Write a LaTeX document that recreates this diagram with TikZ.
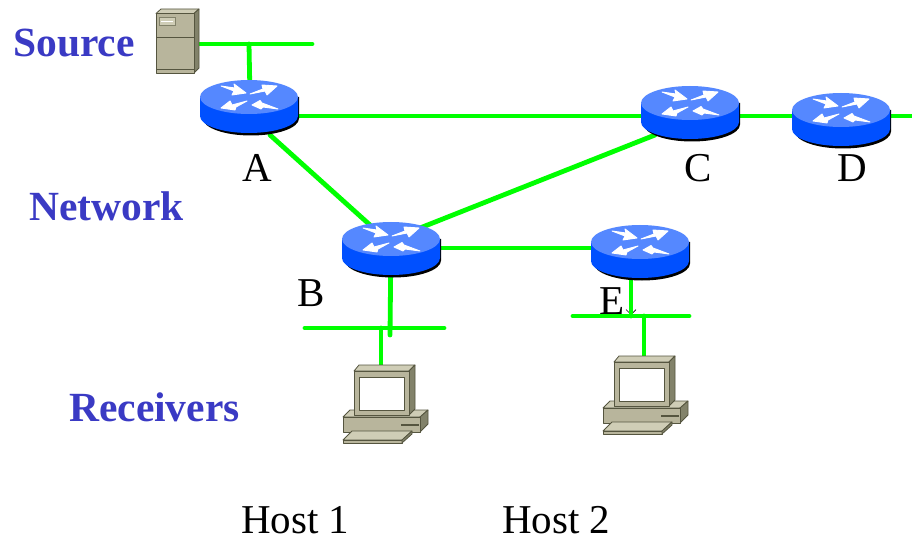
\documentclass[tikz,border=0pt]{standalone}
\usepackage{fontspec}
\setmainfont{Liberation Serif}
\usetikzlibrary{arrows.meta,calc}
\definecolor{linkgreen}{HTML}{00FF00}
\definecolor{titleblue}{HTML}{3A3AC4}
\definecolor{rtop}{HTML}{5588FF}
\definecolor{rbody}{HTML}{0050FF}
\definecolor{beige}{HTML}{B8B59C}
\definecolor{beigelt}{HTML}{CFCDB6}
\definecolor{beigedk}{HTML}{82826A}
\definecolor{edgedk}{HTML}{55553F}
\tikzset{
  link/.style={draw=linkgreen,line width=4.8pt,line cap=round},
  title/.style={font=\fontsize{41.5}{43}\selectfont\bfseries,text=titleblue,inner sep=0pt},
  label/.style={font=\fontsize{41}{43}\selectfont,text=black,inner sep=0pt},
  anchorbox/.style={inner sep=0pt,minimum width=98pt,minimum height=34pt},
  hw/.style={draw=edgedk,line width=0.8pt,line join=round},
  rarrow/.style={fill=white,draw=white,line width=0.9pt,line join=round},
  router/.pic={
    \fill[black] (-46,0) -- (-46,21.5) arc[start angle=180,end angle=0,x radius=48,y radius=17] -- (50,0) -- cycle;
    \fill[rbody] (-49,0) -- (-49,19) arc[start angle=180,end angle=0,x radius=49,y radius=17] -- (49,0) -- cycle;
    \fill[rtop] (0,0) ellipse[x radius=49,y radius=17];
    \path[rarrow] (-28,-11) -- (-14,-9) -- (-15,-13) -- (-3,-4) -- (-17,-2) -- (-15,-6) -- cycle;
    \path[rarrow] (1,-3) -- (14,-8) -- (13,-12) -- (28,-11) -- (18,-2) -- (16,-6) -- cycle;
    \path[rarrow] (-2,4) -- (-17,8) -- (-19,4) -- (-28,11) -- (-14,13) -- (-13,10) -- cycle;
    \path[rarrow] (3,8) -- (11,3.5) -- (13,6) -- (29,12) -- (14,10) -- (12,12) -- cycle;
  },
  computer/.pic={
    % base
    \fill[hw,fill=beigelt] (-34,46) -- (44,46) -- (36,53) -- (-41,53) -- cycle;
    \fill[hw,fill=beigedk] (36,53) -- (44,46) -- (44,60) -- (36,68) -- cycle;
    \fill[hw,fill=beige] (-41,53) rectangle (36,68);
    \draw[edgedk,line width=1.4pt] (17,61) -- (35,61);
    % monitor
    \fill[hw,fill=beigelt] (-30,7) -- (-25,1) -- (31,1) -- (25,7) -- cycle;
    \fill[hw,fill=beigedk] (25,7) -- (31,1) -- (31,45) -- (25,51) -- cycle;
    \fill[hw,fill=beige] (-30,7) rectangle (25,51);
    \fill[hw,fill=white] (-25,13) rectangle (20,46);
    % keyboard
    \fill[hw,fill=beigelt] (-32,67) -- (28,67) -- (18,76) -- (-41,76) -- cycle;
    \fill[hw,fill=beige] (-41,76) -- (18,76) -- (18,79) -- (-41,79) -- cycle;
    \fill[hw,fill=beigedk] (18,76) -- (28,67) -- (28,70) -- (18,79) -- cycle;
  },
  server/.pic={
    \fill[hw,fill=beigelt] (0,4.5) -- (5,0) -- (43,0) -- (38,4.5) -- cycle;
    \fill[hw,fill=beigedk] (38,4.5) -- (43,0) -- (43,59) -- (38,64) -- cycle;
    \fill[hw,fill=beige] (0,4.5) rectangle (38,64);
    \draw[edgedk,line width=0.8pt] (0,28) -- (38,28);
    \draw[edgedk,line width=0.8pt] (0,60) -- (38,60);
    \fill[draw=beigedk,line width=0.6pt,fill=beigelt] (3,8) rectangle (19,16);
    \draw[white,line width=0.8pt] (5,12) -- (17,12);
  },
}
\begin{document}
\begin{tikzpicture}[x=1pt,y=-1pt]
\useasboundingbox (0,0) rectangle (912,537);
% anchors of routers, hosts and source
\node[anchorbox] (A) at (249,97) {};
\node[anchorbox] (B) at (391,239) {};
\node[anchorbox] (C) at (690,103) {};
\node[anchorbox] (D) at (841,110) {};
\node[anchorbox] (E) at (640,242) {};
\node[inner sep=0pt,minimum width=43pt,minimum height=64pt] (srv) at (177.5,41) {};
\node[inner sep=0pt,minimum size=2pt] (h1) at (381,364) {};
\node[inner sep=0pt,minimum size=2pt] (h2) at (644,355) {};
\coordinate (srcbusR) at (312,44);
\coordinate (srcT) at (249,44);
\coordinate (bbL) at (305,328);
\coordinate (bbR) at (444,328);
\coordinate (bbT) at (390,335);
\coordinate (bbH) at (381,328);
\coordinate (ebL) at (573,316);
\coordinate (ebR) at (689,316);
\coordinate (ebT) at (631,316);
\coordinate (ebH) at (644,316);
\coordinate (Dout) at (912,116);
% text under the links
\node[label,anchor=base] (lE) at (612,314) {E};
\draw[black,line width=0.6pt,-{Straight Barb[length=5pt,width=10pt]}] ($(E.center)+(-9,40)$) -- ($(ebT)+(0,-1)$);
% links
\draw[link] (srv.east |- srcT) -- (srcbusR);
\draw[link] (srcT) -- ($(A.center)+(1,0)$);
\draw[link] ($(A.center)+(0,19)$) -- ($(C.center)+(0,13)$);
\draw[link] ($(C.center)+(0,13)$) -- ($(D.center)+(0,6)$);
\draw[link,line cap=butt] ($(D.center)+(0,6)$) -- (Dout);
\draw[link] ($(A.center)+(21,38)$) -- ($(B.center)+(-21,-14)$);
\draw[link] ($(B.center)+(29,-11)$) -- ($(C.center)+(-35,32)$);
\draw[link] ($(B.center)+(0,9)$) -- ($(E.center)+(0,6)$);
\draw[link] (B.center) -- (bbT);
\draw[link] (bbL) -- (bbR);
\draw[link] (bbH) -- (h1.center);
\draw[link] ($(E.center)+(-9,0)$) -- (ebT);
\draw[link] (ebL) -- (ebR);
\draw[link] (ebH) -- (h2.center);
% equipment
\pic at (156,9) {server};
\pic at (A.center) {router};
\pic at (B.center) {router};
\pic at (C.center) {router};
\pic at (D.center) {router};
\pic at (E.center) {router};
\pic at (384,364) {computer};
\pic at (644,355) {computer};
% text
\node[title,anchor=base west] (tS) at (13,56.5) {Source};
\node[title,anchor=base west] (tN) at (29,221) {Network};
\node[title,anchor=base west] (tR) at (69,421) {Receivers};
\node[label,anchor=base] (lA) at (257,181.5) {A};
\node[label,anchor=base] (lB) at (311,306) {B};
\node[label,anchor=base] (lC) at (698,181.5) {C};
\node[label,anchor=base] (lD) at (852,181.5) {D};
\node[label,anchor=base west] (lH1) at (241,533) {Host 1};
\node[label,anchor=base west] (lH2) at (502,533) {Host 2};
\end{tikzpicture}
\end{document}
